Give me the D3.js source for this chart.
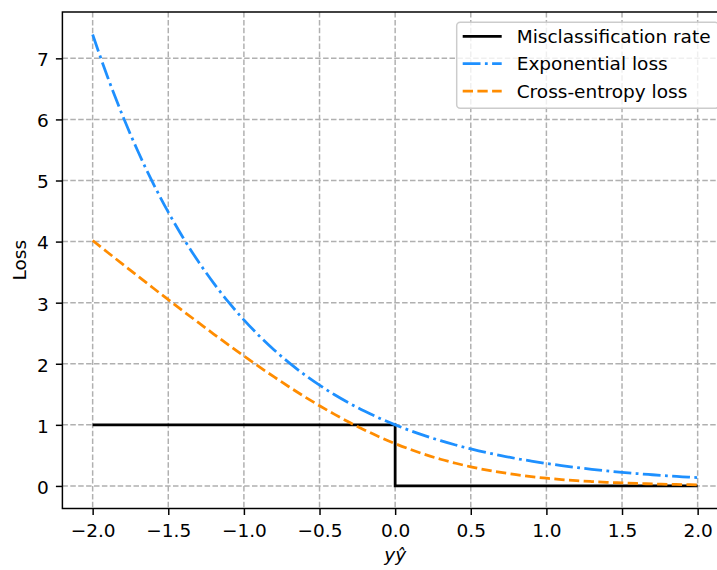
<!DOCTYPE html>
<html>
<head>
<meta charset="utf-8">
<script src="https://cdn.jsdelivr.net/npm/d3@7"></script>
<style>
  html, body { margin: 0; padding: 0; background: #fff; }
  svg { display: block; font-family: "DejaVu Sans", sans-serif; }
</style>
</head>
<body>
<svg id="chart" width="717" height="570"></svg>
<script>
// Sample positions along the margin y·ŷ
const margins = [-2.0, -1.9, -1.8, -1.7, -1.6, -1.5, -1.4, -1.3, -1.2, -1.1, -1.0,
  -0.9, -0.8, -0.7, -0.6, -0.5, -0.4, -0.3, -0.2, -0.1, 0.0,
  0.1, 0.2, 0.3, 0.4, 0.5, 0.6, 0.7, 0.8, 0.9, 1.0,
  1.1, 1.2, 1.3, 1.4, 1.5, 1.6, 1.7, 1.8, 1.9, 2.0];

const exponentialLoss = [7.389, 6.686, 6.050, 5.474, 4.953, 4.482, 4.055, 3.669, 3.320, 3.004, 2.718,
  2.460, 2.226, 2.014, 1.822, 1.649, 1.492, 1.350, 1.221, 1.105, 1.000,
  0.905, 0.819, 0.741, 0.670, 0.607, 0.549, 0.497, 0.449, 0.407, 0.368,
  0.333, 0.301, 0.273, 0.247, 0.223, 0.202, 0.183, 0.165, 0.150, 0.135];

const crossEntropyLoss = [4.018, 3.822, 3.627, 3.433, 3.240, 3.049, 2.859, 2.672, 2.487, 2.305, 2.127,
  1.953, 1.784, 1.620, 1.463, 1.313, 1.171, 1.037, 0.913, 0.798, 0.693,
  0.598, 0.513, 0.437, 0.371, 0.313, 0.263, 0.221, 0.184, 0.153, 0.127,
  0.105, 0.087, 0.072, 0.059, 0.049, 0.040, 0.033, 0.027, 0.022, 0.018];

// Zero-one loss: 1 for negative margins, 0 from zero onwards
const misclassMargins = [-2.0, 0.0, 2.0];
const misclassRate = [1, 0, 0];

const xTicks = [-2.0, -1.5, -1.0, -0.5, 0.0, 0.5, 1.0, 1.5, 2.0];
const yTicks = [0, 1, 2, 3, 4, 5, 6, 7];

const seriesNames = ["Misclassification rate", "Exponential loss", "Cross-entropy loss"];
const seriesColors = ["#000000", "#1e90ff", "#ff8c00"];
const seriesDashes = [null, "17.8,4.4,2.8,4.4", "10.3,4.4"];

const svg = d3.select("#chart");
const plotLeft = 62.4, plotTop = 12, plotW = 665.5, plotH = 496.5;
const fontPx = "18.5px";
const lw = 2.77;

const x = d3.scaleLinear().domain([-2.2, 2.2]).range([plotLeft, plotLeft + plotW]);
const y = d3.scaleLinear().domain([-0.3694, 7.7585]).range([plotTop + plotH, plotTop]);

const fmtMinus = v => v.toFixed(1).replace("-", "\u2212");

// Grid
const grid = svg.append("g").attr("stroke", "#b0b0b0").attr("stroke-width", 1.48)
  .attr("stroke-dasharray", "5.5,2.4");
grid.selectAll("line.vx").data(xTicks).join("line").attr("class", "vx")
  .attr("x1", d => x(d)).attr("x2", d => x(d))
  .attr("y1", plotTop).attr("y2", plotTop + plotH);
grid.selectAll("line.hy").data(yTicks).join("line").attr("class", "hy")
  .attr("y1", d => y(d)).attr("y2", d => y(d))
  .attr("x1", plotLeft).attr("x2", plotLeft + plotW);

// Series
const lineGen = d3.line().x(d => x(d[0])).y(d => y(d[1])).curve(d3.curveMonotoneX);
const stepGen = d3.line().x(d => x(d[0])).y(d => y(d[1])).curve(d3.curveStepAfter);

svg.append("path")
  .attr("d", stepGen(d3.zip(misclassMargins, misclassRate)))
  .attr("fill", "none").attr("stroke", seriesColors[0]).attr("stroke-width", lw);
svg.append("path")
  .attr("d", lineGen(d3.zip(margins, exponentialLoss)))
  .attr("fill", "none").attr("stroke", seriesColors[1]).attr("stroke-width", lw)
  .attr("stroke-dasharray", seriesDashes[1]);
svg.append("path")
  .attr("d", lineGen(d3.zip(margins, crossEntropyLoss)))
  .attr("fill", "none").attr("stroke", seriesColors[2]).attr("stroke-width", lw)
  .attr("stroke-dasharray", seriesDashes[2]);

// Axes
const xAxis = d3.axisBottom(x).tickValues(xTicks).tickFormat(fmtMinus)
  .tickSize(6.5).tickPadding(8.4);
const yAxis = d3.axisLeft(y).tickValues(yTicks).tickFormat(d3.format("d"))
  .tickSize(6.5).tickPadding(7);

const gx = svg.append("g").attr("transform", `translate(0,${plotTop + plotH})`).call(xAxis);
const gy = svg.append("g").attr("transform", `translate(${plotLeft},0)`).call(yAxis);
gy.selectAll(".tick text").attr("dy", "0.4em");
[gx, gy].forEach(g => {
  g.select(".domain").remove();
  g.selectAll(".tick line").attr("stroke", "#000").attr("stroke-width", 1.48);
  g.selectAll(".tick text").attr("fill", "#000")
    .style("font-family", "DejaVu Sans").style("font-size", fontPx);
});

// Spines
svg.append("rect").attr("x", plotLeft).attr("y", plotTop).attr("width", plotW).attr("height", plotH)
  .attr("fill", "none").attr("stroke", "#000").attr("stroke-width", 1.48);

// Axis labels
svg.append("text").attr("x", x(0)).attr("y", 561).attr("text-anchor", "middle")
  .style("font-size", fontPx).style("font-style", "italic").text("yŷ");
svg.append("text").attr("transform", `translate(26,${plotTop + plotH / 2}) rotate(-90)`)
  .attr("text-anchor", "middle").style("font-size", fontPx).text("Loss");

// Legend
const lg = svg.append("g").attr("transform", "translate(456.7,22.3)");
lg.append("rect").attr("width", 262).attr("height", 86).attr("rx", 3.5)
  .attr("fill", "#fff").attr("fill-opacity", 0.8).attr("stroke", "#cccccc").attr("stroke-width", 1.48);
seriesNames.forEach((name, i) => {
  const ry = 14 + i * 27.4;
  lg.append("line").attr("x1", 6).attr("x2", 45).attr("y1", ry).attr("y2", ry)
    .attr("stroke", seriesColors[i]).attr("stroke-width", lw)
    .attr("stroke-dasharray", seriesDashes[i]);
  lg.append("text").attr("x", 60).attr("y", ry).attr("dy", "0.36em")
    .style("font-size", fontPx).text(name);
});
</script>
</body>
</html>
